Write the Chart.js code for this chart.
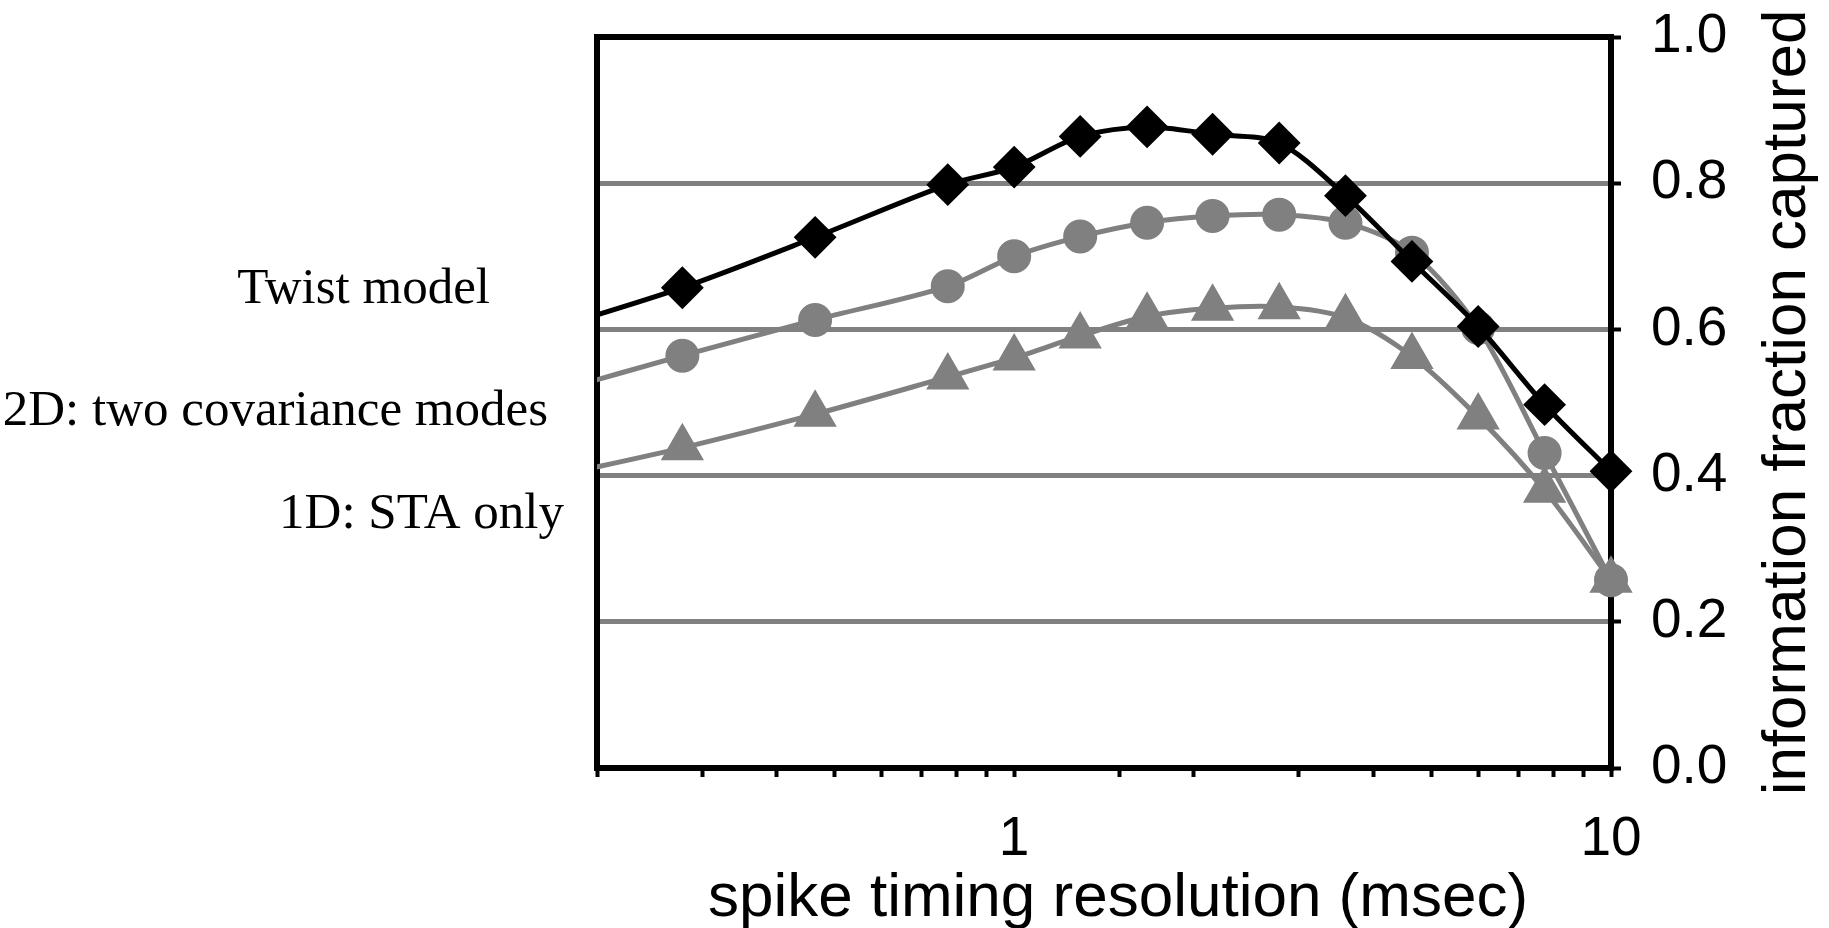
<!DOCTYPE html>
<html>
<head>
<meta charset="utf-8">
<title>Information fraction captured</title>
<script src="https://cdn.jsdelivr.net/npm/chart.js@4.4.0/dist/chart.umd.min.js"></script>
<style>
    html, body { margin: 0; padding: 0; background: #fff; }
    #wrap { width: 1829px; height: 928px; position: relative; }
</style>
</head>
<body>
<div id="wrap"><canvas id="infoChart"></canvas></div>
<script>
// Values
// (first point sits left of the axis minimum, only its line segment shows)
const resolution = [0.167, 0.278, 0.464, 0.774, 1, 1.29, 1.67, 2.15, 2.78, 3.59, 4.64, 5.99, 7.74, 10];
const twistModel = [0.600, 0.657, 0.726, 0.798, 0.822, 0.864, 0.877, 0.867, 0.855, 0.783, 0.693, 0.604, 0.497, 0.406];
const twoDModes  = [0.513, 0.564, 0.613, 0.659, 0.700, 0.727, 0.746, 0.755, 0.757, 0.746, 0.705, 0.602, 0.431, 0.257];
const oneDSta    = [0.398, 0.438, 0.484, 0.535, 0.561, 0.591, 0.618, 0.629, 0.631, 0.616, 0.563, 0.480, 0.380, 0.257];

const seriesNames = ['Twist model', '2D: two covariance modes', '1D: STA only'];
const xTickLabels = [1, 10];
const yTickValues = [0, 0.2, 0.4, 0.6, 0.8, 1.0];
const xTitle = 'spike timing resolution (msec)';
const yTitle = 'information fraction captured';

document.addEventListener('DOMContentLoaded', function() {
    const toPoints = arr => resolution.map((x, i) => ({ x: x, y: arr[i] }));
    const sansFont = '"Liberation Sans", Arial, sans-serif';

    // left and top sides of the plot box
    const framePlugin = {
        id: 'frame',
        beforeDatasetsDraw(chart) {
            const ctx = chart.ctx;
            const a = chart.chartArea;
            ctx.save();
            ctx.strokeStyle = '#000';
            ctx.lineWidth = 6;
            ctx.lineCap = 'round';
            ctx.beginPath();
            ctx.moveTo(a.left, a.bottom);
            ctx.lineTo(a.left, a.top);
            ctx.lineTo(a.right, a.top);
            ctx.stroke();
            ctx.restore();
        }
    };

    // series names on the left and the two axis titles
    const textPlugin = {
        id: 'texts',
        afterDraw(chart) {
            const ctx = chart.ctx;
            const a = chart.chartArea;
            ctx.save();
            ctx.fillStyle = '#000';
            ctx.textBaseline = 'alphabetic';

            ctx.font = '51px "Liberation Serif", "Times New Roman", serif';
            ctx.textAlign = 'right';
            ctx.fillText(seriesNames[0], 490, 303);
            ctx.fillText(seriesNames[1], 548, 425);
            ctx.fillText(seriesNames[2], 564, 528);

            ctx.font = '62px ' + sansFont;
            ctx.textAlign = 'center';
            ctx.fillText(xTitle, 1118, 916);

            ctx.translate(1805, (a.top + a.bottom) / 2);
            ctx.rotate(-Math.PI / 2);
            ctx.fillText(yTitle, 0, 0);
            ctx.restore();
        }
    };

    const ctx = document.getElementById('infoChart').getContext('2d');
    const infoChart = new Chart(ctx, {
        type: 'line',
        data: {
            datasets: [
                {
                    label: seriesNames[0],
                    data: toPoints(twistModel),
                    borderColor: '#000',
                    backgroundColor: '#000',
                    borderWidth: 5,
                    pointStyle: 'rectRot',
                    pointRadius: 20,
                    pointBorderWidth: 2,
                    pointBorderColor: '#000',
                    pointBackgroundColor: '#000'
                },
                {
                    label: seriesNames[1],
                    data: toPoints(twoDModes),
                    borderColor: '#808080',
                    backgroundColor: '#808080',
                    borderWidth: 5,
                    pointStyle: 'circle',
                    pointRadius: 16,
                    pointBorderWidth: 2,
                    pointBorderColor: '#808080',
                    pointBackgroundColor: '#808080'
                },
                {
                    label: seriesNames[2],
                    data: toPoints(oneDSta),
                    borderColor: '#808080',
                    backgroundColor: '#808080',
                    borderWidth: 5,
                    pointStyle: 'triangle',
                    pointRadius: 23,
                    pointBorderWidth: 2,
                    pointBorderColor: '#808080',
                    pointBackgroundColor: '#808080'
                }
            ]
        },
        options: {
            responsive: true,
            maintainAspectRatio: false,
            animation: false,
            events: [],
            layout: {
                padding: { left: 597, top: 37, right: 0, bottom: 0 }
            },
            elements: {
                line: { tension: 0.3, fill: false }
            },
            datasets: {
                line: { clip: { left: 0, top: false, right: false, bottom: false } }
            },
            scales: {
                x: {
                    type: 'logarithmic',
                    position: 'bottom',
                    min: 0.2,
                    max: 10,
                    afterFit: scale => {
                        scale.height = 160;
                        scale.paddingLeft = 0;
                        scale.paddingRight = 0;
                    },
                    grid: {
                        drawOnChartArea: false,
                        color: '#000',
                        tickColor: '#000',
                        tickWidth: 4,
                        tickLength: 9
                    },
                    border: { color: '#000', width: 6 },
                    ticks: {
                        autoSkip: false,
                        maxRotation: 0,
                        minRotation: 0,
                        padding: 30,
                        color: '#000',
                        font: { family: sansFont, size: 55 },
                        callback: function(value) {
                            const hit = xTickLabels.find(t => Math.abs(t - value) < 1e-6);
                            return hit !== undefined ? String(hit) : '';
                        }
                    }
                },
                y: {
                    position: 'right',
                    min: 0,
                    max: 1,
                    afterFit: scale => {
                        scale.width = 218;
                        scale.paddingTop = 0;
                        scale.paddingBottom = 0;
                    },
                    afterBuildTicks: axis => { axis.ticks = yTickValues.map(v => ({ value: v })); },
                    grid: {
                        color: c => (c.tick && c.tick.value > 0.01 && c.tick.value < 0.99) ? '#808080' : 'rgba(0,0,0,0)',
                        lineWidth: 5,
                        tickColor: '#000',
                        tickWidth: 4,
                        tickLength: 10
                    },
                    border: { color: '#000', width: 6 },
                    ticks: {
                        padding: 30,
                        color: '#000',
                        font: { family: sansFont, size: 55 },
                        callback: value => Number(value).toFixed(1)
                    }
                }
            },
            plugins: {
                legend: { display: false },
                tooltip: { enabled: false },
                title: { display: false }
            }
        },
        plugins: [framePlugin, textPlugin]
    });
});
</script>
</body>
</html>
